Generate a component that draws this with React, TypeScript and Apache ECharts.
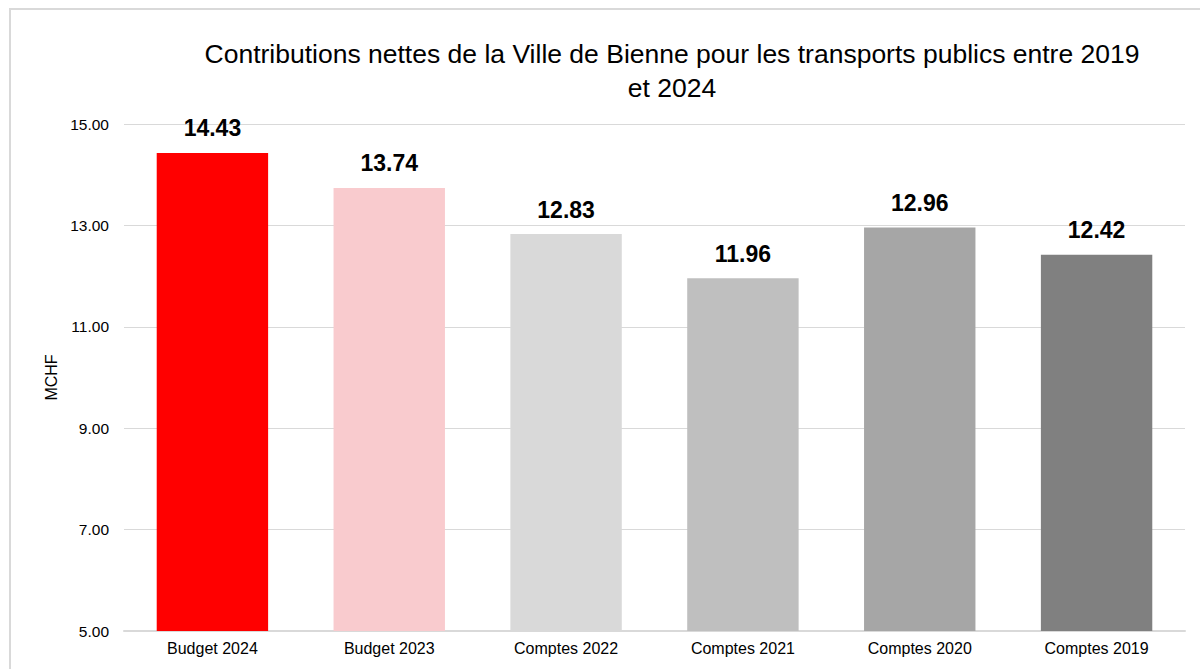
import React, { useEffect, useRef } from "react";
import * as echarts from "echarts";

const categories = ["Budget 2024", "Budget 2023", "Comptes 2022", "Comptes 2021", "Comptes 2020", "Comptes 2019"];
const values = [14.43, 13.74, 12.83, 11.96, 12.96, 12.42];
const colors = ["#FF0000", "#F9CBCE", "#D9D9D9", "#BFBFBF", "#A6A6A6", "#808080"];
const titleText = "Contributions nettes de la Ville de Bienne pour les transports publics entre 2019\net 2024";
const yAxisName = "MCHF";

const FONT = "'Liberation Sans', Arial, sans-serif";

export default function App() {
  const ref = useRef<HTMLDivElement>(null);
  useEffect(() => {
    if (!ref.current) return;
    const chart = echarts.init(ref.current, null, { renderer: "svg" });
    chart.setOption({
      animation: false,
      backgroundColor: "#ffffff",
      textStyle: { fontFamily: FONT },
      title: {
        text: titleText,
        left: 667,
        top: 32,
        textAlign: "center",
        textStyle: { fontFamily: FONT, fontSize: 26.5, fontWeight: "normal", color: "#000", lineHeight: 34 },
      },
      graphic: [
        {
          type: "rect",
          shape: { x: 10, y: 9, width: 1200, height: 680 },
          style: { fill: "none", stroke: "#D9D9D9", lineWidth: 2 },
          silent: true,
        },
      ],
      grid: { left: 124, right: 15, top: 124, bottom: 38, containLabel: false },
      xAxis: {
        type: "category",
        data: categories,
        axisLine: { lineStyle: { color: "#D9D9D9", width: 2 } },
        axisTick: { show: false },
        axisLabel: { color: "#000", fontSize: 16, fontFamily: FONT, margin: 9 },
      },
      yAxis: {
        type: "value",
        min: 5,
        max: 15,
        interval: 2,
        name: yAxisName,
        nameLocation: "middle",
        nameRotate: 90,
        nameGap: 65,
        nameTextStyle: { color: "#000", fontSize: 16, fontFamily: FONT },
        axisLine: { show: false },
        axisTick: { show: false },
        axisLabel: {
          color: "#000",
          fontSize: 15.5,
          fontFamily: FONT,
          margin: 15,
          formatter: (v: number) => v.toFixed(2),
        },
        splitLine: { lineStyle: { color: "#D9D9D9", width: 1 } },
      },
      series: [
        {
          type: "bar",
          data: values.map((v, i) => ({ value: v, itemStyle: { color: colors[i] } })),
          barCategoryGap: "37%",
          label: {
            show: true,
            position: "top",
            distance: 13,
            color: "#000",
            fontSize: 23,
            fontWeight: "bold",
            fontFamily: FONT,
            formatter: (p: any) => p.value.toFixed(2),
          },
        },
      ],
    });
    return () => chart.dispose();
  }, []);
  return <div ref={ref} style={{ width: 1200, height: 669, position: "absolute", left: 0, top: 0 }} />;
}
